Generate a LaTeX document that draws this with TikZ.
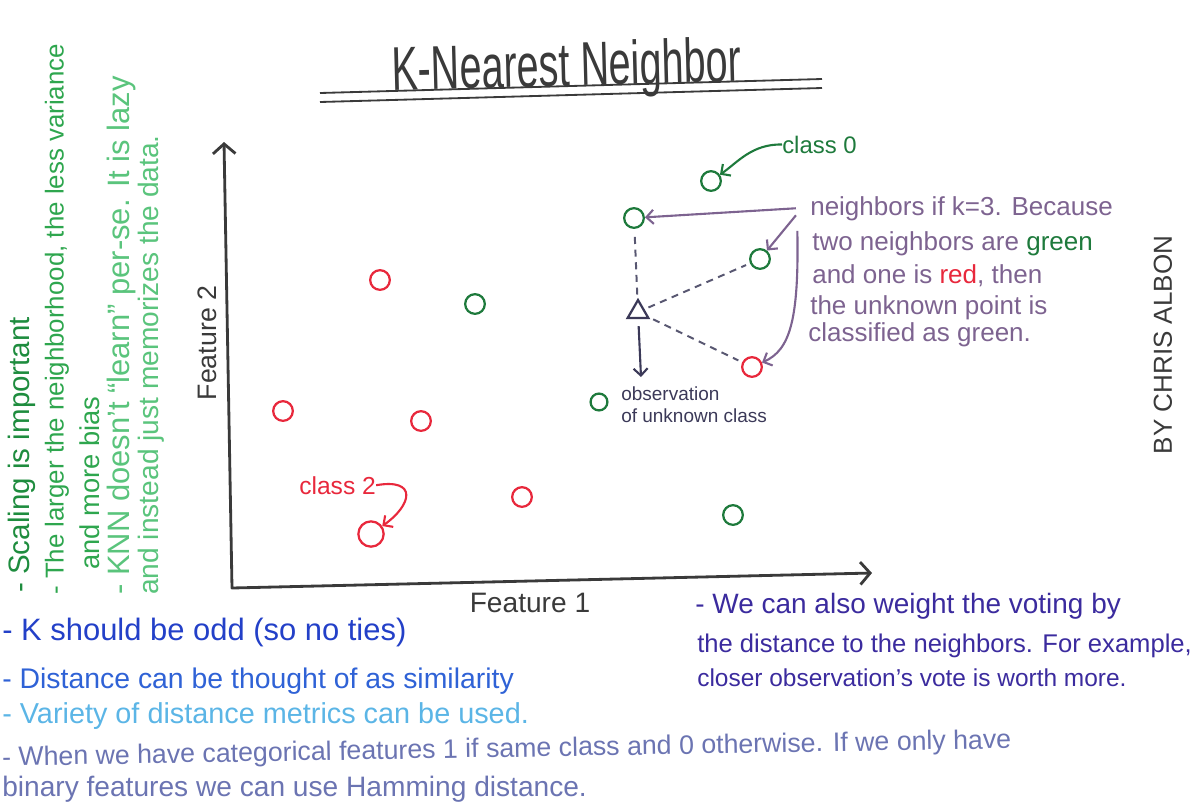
\documentclass[tikz,border=0pt]{standalone}
\usepackage{fontspec}
\setmainfont{Liberation Sans}
\newfontfamily\titlefont{Liberation Sans}[FakeStretch=0.64]
\usepackage{tikz}
\usetikzlibrary{arrows.meta,positioning,shapes.geometric}
\definecolor{ink}{HTML}{3A3A3A}
\definecolor{ptred}{HTML}{E8283C}
\definecolor{ptgreen}{HTML}{1E7A3C}
\definecolor{mauve}{HTML}{7D6390}
\definecolor{navy}{HTML}{3B3958}
\definecolor{scalegreen}{HTML}{1E8C3E}
\definecolor{biasgreen}{HTML}{2EA64E}
\definecolor{lazygreen}{HTML}{5AC47C}
\definecolor{kblue}{HTML}{2340C8}
\definecolor{distblue}{HTML}{2F62D6}
\definecolor{varblue}{HTML}{5BB5E6}
\definecolor{catblue}{HTML}{6B74B2}
\definecolor{voteblue}{HTML}{3B2B9E}
\newcommand{\hw}[1]{\fontsize{#1}{#1}\selectfont}
\tikzset{datapt/.style={circle,draw,line width=1.6pt,minimum size=14pt,inner sep=0pt},reddot/.style={datapt,draw=ptred},greendot/.style={datapt,draw=ptgreen},note/.style={anchor=base west,inner sep=0pt},side/.style={rotate=90,anchor=west,inner sep=0pt},pointer/.style={-{Straight Barb[length=5pt,width=10pt]},line width=1.5pt},link/.style={dash pattern=on 5pt off 4pt,line width=1.4pt,draw=navy!85,shorten <=3pt,shorten >=3pt}}

\begin{document}
\begin{tikzpicture}[x=0.025cm,y=-0.025cm]
\useasboundingbox (0,0) rectangle (1199,805);
% title
\node[anchor=base,rotate=1.5,inner sep=0pt,text=ink,font=\titlefont\hw{44}] (title) at (567,86) {K-Nearest Neighbor};
\draw[ink,line width=1.3pt] (320,93) -- (822,79);
\draw[ink,line width=1.3pt] (320,102) -- (822,88);
% axes
\coordinate (origin) at (232,588);
\coordinate (ytop) at (224,142);
\coordinate (xend) at (872,573);
\draw[ink,line width=2pt,line join=round,{Straight Barb[length=7pt,width=16pt]}-{Straight Barb[length=7pt,width=16pt]}] (ytop) -- (origin) -- (xend);
\node[text=ink,font=\hw{20}] (feat1) at (530,603) {Feature 1};
\node[text=ink,font=\hw{19},rotate=90] (feat2) at (207,343) {Feature 2};
% points
\node[reddot] (r1) at (380,280) {};
\node[reddot] (r2) at (283,411) {};
\node[reddot] (r3) at (421,421) {};
\node[reddot] (r4) at (522,497) {};
\node[reddot,minimum size=18pt] (r5) at (371,534) {};
\node[greendot] (g1) at (475,304) {};
\node[greendot] (g0) at (711,181) {};
\node[greendot,minimum size=12pt] (g2) at (599,402) {};
\node[greendot] (g3) at (733,515) {};
\node[greendot] (n1) at (634,218) {};
\node[greendot] (n2) at (760,259) {};
\node[reddot] (n3) at (752,367) {};
\node[draw=navy,line width=1.6pt,regular polygon,regular polygon sides=3,minimum size=17pt,inner sep=0pt] (q) at (638,312) {};
\coordinate (qdown) at (641,377);
\draw[link] (q) -- (n1);
\draw[link] (q) -- (n2);
\draw[link] (q) -- (n3);
\draw[pointer,draw=navy,shorten <=5pt] (q) -- (qdown);
\node[note,text=navy,font=\hw{13.5}] (obs1) at (621,400) {observation};
\node[note,text=navy,font=\hw{13.5}] (obs2) at (621,422) {of unknown class};
% class labels
\node[note,text=ptgreen,font=\hw{17}] (lab0) at (782,153) {class 0};
\draw[pointer,ptgreen] (lab0.west) .. controls (752,144) and (738,162) .. (g0);
\node[note,text=ptred,font=\hw{17.5}] (lab2) at (299,494) {class 2};
\draw[pointer,ptred] (lab2.east) .. controls (418,478) and (412,505) .. (r5);
% neighbors note
\node[note,text=mauve,font=\hw{18.5}] (nb1) at (810,215) {neighbors if k=3. Because};
\node[note,text=mauve,font=\hw{18.5}] (nb2) at (812,250) {two neighbors are \textcolor{ptgreen}{green}};
\node[note,text=mauve,font=\hw{18.5}] (nb3) at (812,283) {and one is \textcolor{ptred}{red}, then};
\node[note,text=mauve,font=\hw{18.5}] (nb4) at (810,314) {the unknown point is};
\node[note,text=mauve,font=\hw{18.5}] (nb5) at (808,341) {classified as green.};
\draw[pointer,mauve] ([xshift=-10pt]nb1.west) -- (n1);
\draw[pointer,mauve] ([xshift=-10pt,yshift=-5pt]nb1.west) -- (n2);
\draw[pointer,mauve] ([xshift=-9pt,yshift=-16pt]nb1.west) .. controls (799,320) and (790,350) .. (n3);
% side notes
\node[side,text=scalegreen,font=\hw{21}] (s1) at (22,593) {- Scaling is important};
\node[side,text=biasgreen,font=\hw{18.4}] (s2) at (57,595) {- The larger the neighborhood, the less variance};
\node[side,text=biasgreen,font=\hw{19.4}] (s3) at (90,570) {and more bias};
\node[side,text=lazygreen,font=\hw{22}] (s4) at (122,595) {- KNN doesn't “learn” per-se. It is lazy};
\node[side,text=lazygreen,font=\hw{20}] (s5) at (151,595) {and instead just memorizes the data.};
% bottom notes
\node[note,text=kblue,font=\hw{22}] (b1) at (2,640) {- K should be odd (so no ties)};
\node[note,text=distblue,font=\hw{20.2}] (b2) at (2,688) {- Distance can be thought of as similarity};
\node[note,text=varblue,font=\hw{20.5}] (b3) at (2,723) {- Variety of distance metrics can be used.};
\node[note,text=catblue,font=\hw{19},rotate=1] (b4) at (2,766) {- When we have categorical features 1 if same class and 0 otherwise. If we only have};
\node[note,text=catblue,font=\hw{20}] (b5) at (2,796) {binary features we can use Hamming distance.};
\node[note,text=voteblue,font=\hw{19.9}] (v1) at (695,613) {- We can also weight the voting by};
\node[note,text=voteblue,font=\hw{18.2}] (v2) at (697,652) {the distance to the neighbors. For example,};
\node[note,text=voteblue,font=\hw{17.4}] (v3) at (697,686) {closer observation's vote is worth more.};
\node[text=ink,font=\hw{18.5},rotate=90] (sig) at (1163,345) {BY CHRIS ALBON};
\end{tikzpicture}
\end{document}
